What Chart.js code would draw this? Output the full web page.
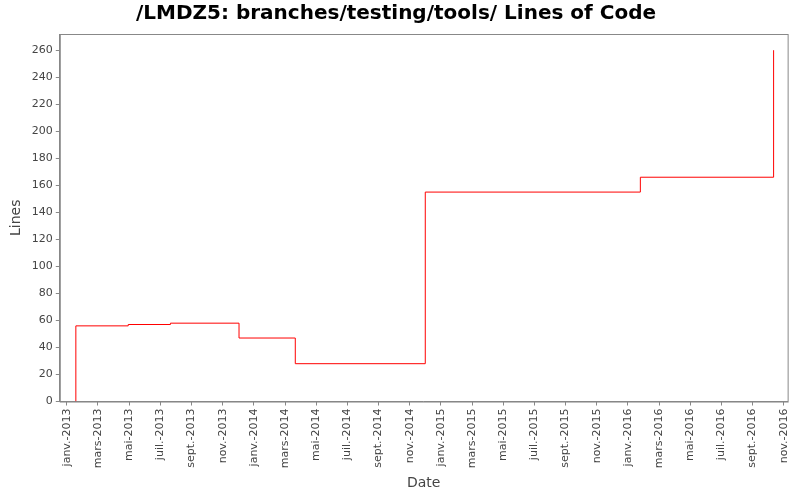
<!DOCTYPE html>
<html>
<head>
<script src="https://cdn.jsdelivr.net/npm/chart.js@4.4.0/dist/chart.umd.min.js"></script>
<style>
  body { margin: 0; padding: 0; background: white; }
  #wrap { width: 800px; height: 500px; }
</style>
</head>
<body>
<div id="wrap"><canvas id="chartCanvas"></canvas></div>
<script>
// x = months since janv. 2013
const monthOffsets = [0.58, 0.58, 3.94, 6.65, 11.05, 14.66, 23.0, 36.8, 45.35];
const lineCounts   = [0,    56,   57,   58,   47,    28,    155,  166,  260];
const monthNames = ['janv.', 'févr.', 'mars', 'avr.', 'mai', 'juin', 'juil.', 'août', 'sept.', 'oct.', 'nov.', 'déc.'];
const tickMonths = [];
for (let m = 0; m <= 46; m += 2) tickMonths.push(m);

const points = monthOffsets.map((x, i) => ({ x, y: lineCounts[i] }));

new Chart(document.getElementById('chartCanvas'), {
  type: 'line',
  data: {
    datasets: [{
      data: points,
      borderColor: '#ff0000',
      borderWidth: 1,
      pointRadius: 0,
      stepped: 'before',
      fill: false
    }]
  },
  options: {
    responsive: true,
    maintainAspectRatio: false,
    animation: false,
    layout: { padding: { right: 12, left: 4, bottom: 4 } },
    plugins: {
      legend: { display: false },
      tooltip: { enabled: false },
      title: {
        display: true,
        text: '/LMDZ5: branches/testing/tools/ Lines of Code',
        color: '#000',
        font: { family: 'DejaVu Sans', size: 20, weight: 'bold' },
        padding: { top: 2, bottom: 8 }
      }
    },
    scales: {
      x: {
        type: 'linear',
        min: -0.45,
        max: 46.25,
        afterBuildTicks: axis => { axis.ticks = tickMonths.map(v => ({ value: v })); },
        ticks: {
          autoSkip: false,
          maxRotation: 90,
          minRotation: 90,
          color: '#444',
          font: { family: 'DejaVu Sans', size: 11 },
          callback: v => monthNames[v % 12] + '-' + (2013 + Math.floor(v / 12))
        },
        grid: { drawOnChartArea: false, drawTicks: true, tickLength: 4, color: '#888' },
        border: { color: '#888' },
        title: { display: true, text: 'Date', color: '#444', font: { family: 'DejaVu Sans', size: 14 } }
      },
      y: {
        min: 0,
        max: 272,
        afterBuildTicks: axis => {
          const t = [];
          for (let v = 0; v <= 260; v += 20) t.push({ value: v });
          axis.ticks = t;
        },
        ticks: { color: '#444', font: { family: 'DejaVu Sans', size: 11 } },
        grid: { drawOnChartArea: false, drawTicks: true, tickLength: 4, color: '#888' },
        border: { color: '#888' },
        title: { display: true, text: 'Lines', color: '#444', font: { family: 'DejaVu Sans', size: 14 } }
      }
    }
  },
  plugins: [{
    id: 'frame',
    afterDraw(chart) {
      const { ctx, chartArea: a } = chart;
      ctx.save();
      ctx.strokeStyle = '#888';
      ctx.lineWidth = 1;
      ctx.strokeRect(a.left + 0.5, a.top + 0.5, a.right - a.left, a.bottom - a.top);
      ctx.restore();
    }
  }]
});
</script>
</body>
</html>
